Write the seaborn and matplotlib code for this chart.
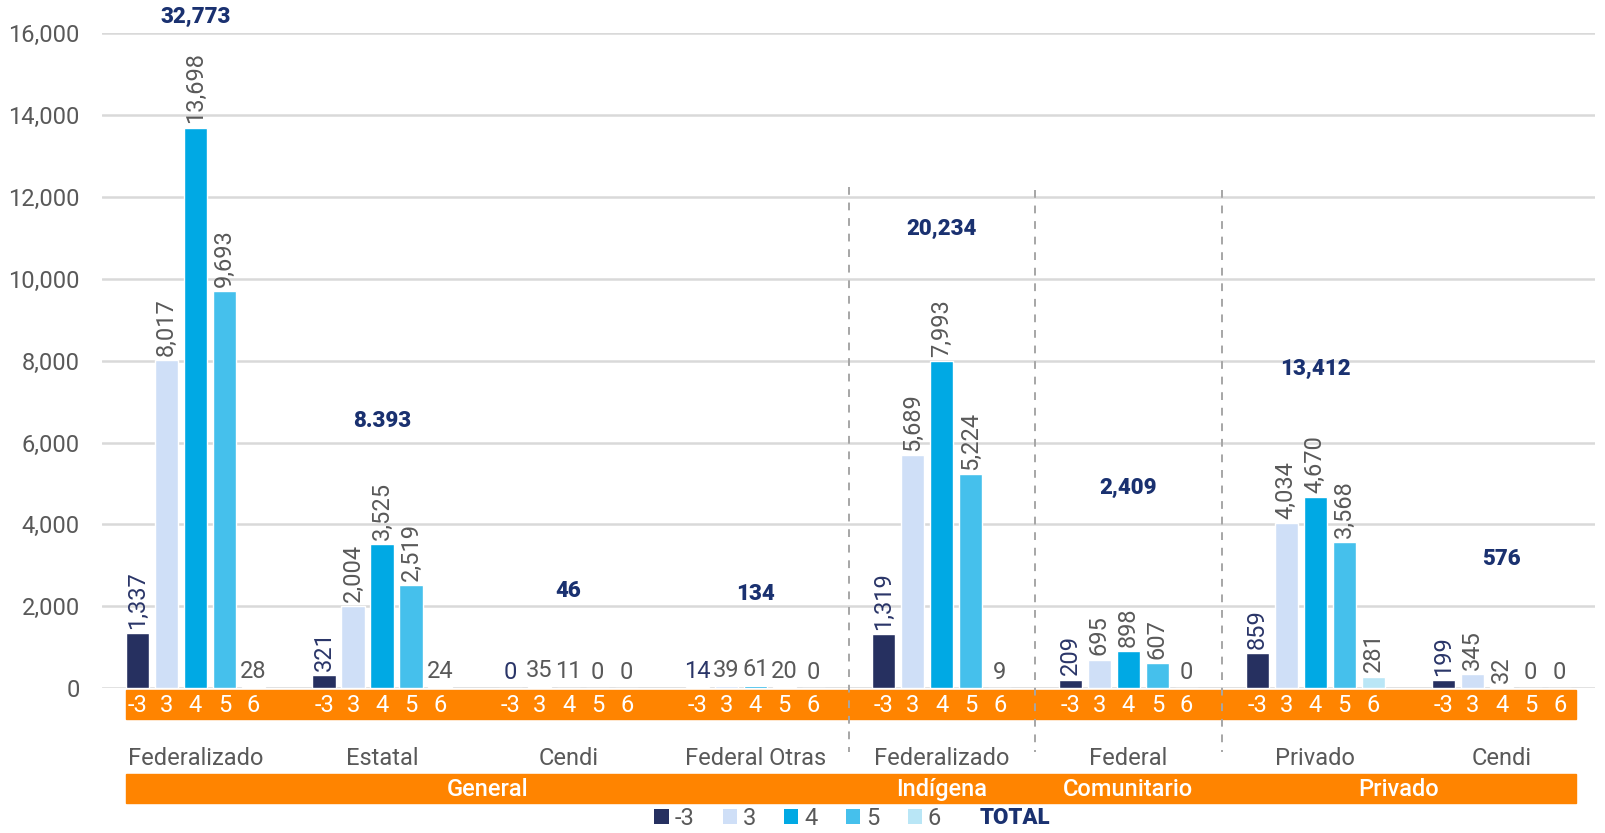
import pandas as pd
import numpy as np
import matplotlib
matplotlib.use("Agg")
import matplotlib.pyplot as plt
import matplotlib.transforms as mtransforms
from matplotlib.patches import Rectangle, Patch
import seaborn as sns

# data
groups = ["Federalizado", "Estatal", "Cendi", "Federal Otras",
          "Federalizado", "Federal", "Privado", "Cendi"]
categories = ["General", "Indígena", "Comunitario", "Privado"]
groups_per_category = [4, 1, 1, 2]
series = ["-3", "3", "4", "5", "6"]
v_m3 = [1337, 321, 0, 14, 1319, 209, 859, 199]
v_3 = [8017, 2004, 35, 39, 5689, 695, 4034, 345]
v_4 = [13698, 3525, 11, 61, 7993, 898, 4670, 32]
v_5 = [9693, 2519, 0, 20, 5224, 607, 3568, 0]
v_6 = [28, 24, 0, 0, 9, 0, 281, 0]
totals = ["32,773", "8.393", "46", "134", "20,234", "2,409", "13,412", "576"]

# layout: where the total labels sit (data units)
TOTAL_Y = [16400, 6530, 2380, 2300, 11210, 4885, 7800, 3150]

colors = ["#263060", "#cfdff7", "#00a9e4", "#45c0ec", "#b9e6f6"]
ORANGE = "#ff8400"
NAVY = "#1a3170"
LBL_NAVY = "#2a3568"
GREY = "#595959"

sns.set_theme(style="white")
plt.rcParams["font.family"] = ["Roboto", "DejaVu Sans"]

keys = [f"{i}_{g}" for i, g in enumerate(groups)]
vals = [v_m3, v_3, v_4, v_5, v_6]
rows = []
for s, vs in zip(series, vals):
    for k, v in zip(keys, vs):
        rows.append({"group": k, "serie": s, "value": v})
df = pd.DataFrame(rows)

fig = plt.figure(figsize=(16.05, 8.33), dpi=100)
ax = fig.add_axes([0.0636, 0.174, 0.9302, 0.786])

sns.barplot(data=df, x="group", y="value", hue="serie", order=keys,
            hue_order=series, palette=colors, width=0.777, gap=0.2,
            saturation=1, ax=ax, legend=False)

ax.set_ylim(0, 16000)
ax.set_xlim(-0.5, len(groups) - 0.5)
ax.set_yticks(np.arange(0, 16001, 2000))
ax.yaxis.set_major_formatter(matplotlib.ticker.StrMethodFormatter("{x:,.0f}"))
ax.tick_params(axis="y", length=0, pad=16, labelsize=17, labelcolor=GREY)
ax.set_xticks([])
ax.set_xlabel("")
ax.set_ylabel("")
ax.grid(axis="y", color="#d9d9d9", lw=1.8)
ax.set_axisbelow(True)
for sp in ax.spines.values():
    sp.set_visible(False)

trans = mtransforms.blended_transform_factory(ax.transData, ax.transAxes)

# value labels and series labels in the orange band
for si, cont in enumerate(ax.containers):
    for gi, bar in enumerate(cont.patches):
        v = vals[si][gi]
        xc = bar.get_x() + bar.get_width() / 2
        grp_total = sum(vv[gi] for vv in vals)
        rot = 90 if (v >= 30 and grp_total > 200) else 0
        ax.annotate(f"{v:,}", (xc, v), xytext=(0, 3), textcoords="offset points",
                    ha="center", va="bottom", rotation=rot, fontsize=17,
                    color=LBL_NAVY if si == 0 else GREY)
        ax.text(xc, -0.026, series[si], transform=trans, ha="center",
                va="center", color="white", fontsize=17, clip_on=False)

lo, hi = -0.37, len(groups) - 1 + 0.40
ax.add_patch(Rectangle((lo, -0.047), hi - lo, 0.044, transform=trans,
                       color=ORANGE, clip_on=False, zorder=0))
ax.add_patch(Rectangle((lo, -0.176), hi - lo, 0.045, transform=trans,
                       color=ORANGE, clip_on=False, zorder=0))

# group labels
for gi, g in enumerate(groups):
    ax.text(gi, -0.108, g, transform=trans, ha="center", va="center",
            fontsize=17, color=GREY)

# totals
for gi, t in enumerate(totals):
    ax.text(gi, TOTAL_Y[gi], t, ha="center", va="center", fontsize=16,
            fontweight="heavy", color=NAVY, clip_on=False)

# category labels and separators
start = 0
for ci, (c, n) in enumerate(zip(categories, groups_per_category)):
    left = lo if ci == 0 else start - 0.5
    right = hi if ci == len(categories) - 1 else start + n - 0.5
    ax.text((left + right) / 2, -0.155, c, transform=trans, ha="center",
            va="center", fontsize=17, color="white", fontweight="medium")
    if ci > 0:
        top = 0.765 if ci == 1 else 0.760
        ax.plot([start - 0.5, start - 0.5], [top, -0.098], transform=trans,
                color="#a6a6a6", lw=1.4, ls=(0, (4, 4)), clip_on=False)
    start += n

# legend
handles = [Patch(facecolor=c, edgecolor="none") for c in colors]
fig.legend(handles, series, loc="center", bbox_to_anchor=(0.497, 0.018),
           ncol=5, frameon=False, fontsize=17, handlelength=0.6,
           handleheight=0.6, handletextpad=0.25, columnspacing=1.2,
           labelcolor=GREY, borderpad=0)
fig.text(0.6106, 0.018, "TOTAL", ha="left", va="center", fontsize=16,
         fontweight="heavy", color=NAVY)

fig.savefig("out.png", dpi=100)
